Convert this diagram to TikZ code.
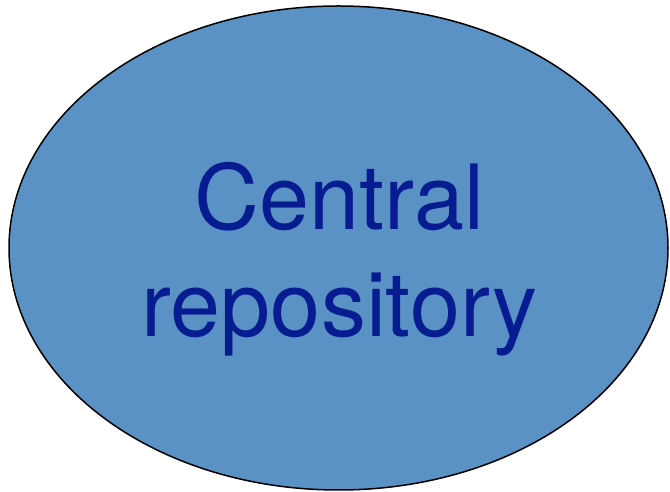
\documentclass[tikz,border=0pt]{standalone}
\usepackage{fontspec}
\setmainfont{TeX Gyre Heros}
\usepackage{tikz}
\usetikzlibrary{shapes.geometric,positioning}
\definecolor{repofill}{RGB}{91,146,198}
\definecolor{repotext}{RGB}{8,28,145}

\begin{document}
\begin{tikzpicture}[x=1pt, y=1pt, every node/.style={inner sep=0pt}]
\useasboundingbox (0,0) rectangle (670,492);
\node[draw, ellipse, line width=1.5pt, fill=repofill, minimum width=659pt, minimum height=484pt] (repo) at (338.5,244) {};
\node[align=center, text=repotext, font=\fontsize{90}{107}\selectfont] (repolabel) at ([xshift=1pt, yshift=-11pt]repo.center) {Central\\repository};
\end{tikzpicture}
\end{document}
